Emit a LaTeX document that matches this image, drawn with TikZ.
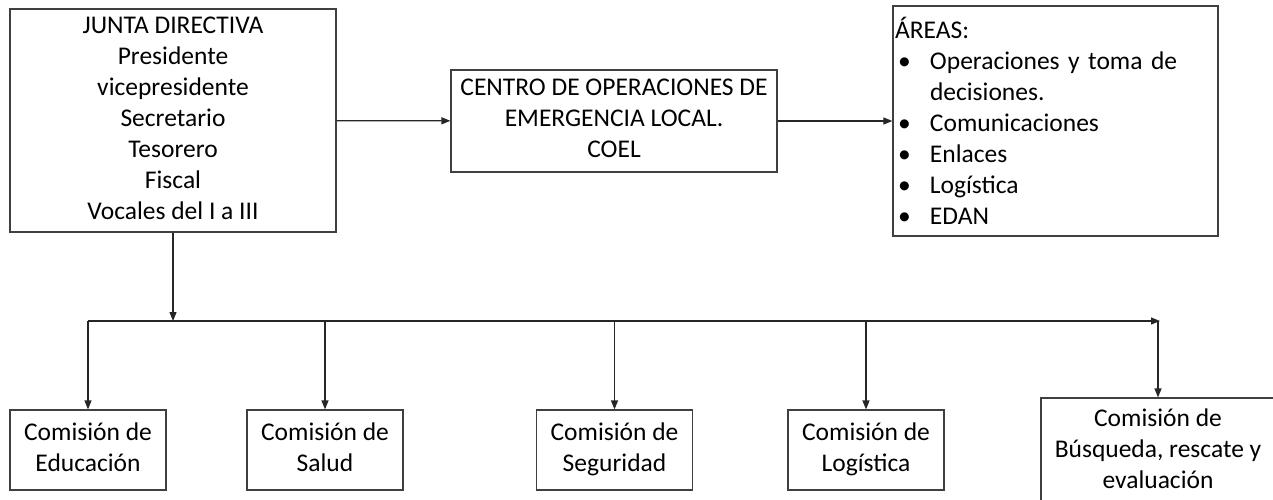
\documentclass[tikz,border=0pt]{standalone}
\usepackage{fontspec}
\setmainfont{Carlito}
\usepackage{tikz}
\usetikzlibrary{positioning, calc, arrows.meta}

\tikzset{
	caja/.style={draw=black!75, line width=1.2pt, align=center, inner sep=0pt,
		font=\fontsize{25.5pt}{31pt}\selectfont,
		execute at begin node={\rule{0pt}{26pt}},
		execute at end node={\rule[-5pt]{0pt}{5pt}}},
	comision/.style={caja, minimum width=156pt, minimum height=80pt},
	linea/.style={draw=black!85, line width=1.2pt}
}

\newcommand{\vinieta}{\makebox[35pt][l]{\hspace{3pt}\textbullet}}

\begin{document}
\begin{tikzpicture}[x=1pt, y=-1pt]
		\useasboundingbox (0,0) rectangle (1273,499);

		\node[caja, minimum width=326pt, minimum height=223pt] (junta) at (173,120.5)
			{JUNTA DIRECTIVA\\Presidente\\vicepresidente\\Secretario\\Tesorero\\Fiscal\\Vocales del I a III};
		\node[caja, minimum width=326pt, minimum height=102pt] (coel) at (614,121)
			{CENTRO DE OPERACIONES DE\\EMERGENCIA LOCAL.\\COEL};
		\node[caja, align=left, text width=321pt, minimum height=230pt, inner xsep=2pt] (areas) at (1055.5,121)
			{ÁREAS:\\\vinieta Operaciones y toma de\\\hspace{35pt}decisiones.\\\vinieta Comunicaciones\\\vinieta Enlaces\\\vinieta Logística\\\vinieta EDAN};

		\node[comision] (educacion) at (88,450) {Comisión de\\Educación};
		\node[comision] (salud) at (325,450) {Comisión de\\Salud};
		\node[comision] (seguridad) at (614.5,450) {Comisión de\\Seguridad};
		\node[comision] (logistica) at (866,450) {Comisión de\\Logística};
		\node[comision, minimum width=234pt, minimum height=106pt] (busqueda) at (1158,451)
			{Comisión de\\Búsqueda, rescate y\\evaluación};

		\coordinate (busL) at (88,321);
		\coordinate (busR) at (1160,321);
		\coordinate (tramo) at (243,321);

		\begin{scope}[>={Triangle[length=9pt, width=7pt]}]

			\path [linea, ->] (junta) -- (coel);
			\path [linea, ->] (coel) -- (areas);
			\path [linea, ->] (junta.south) -- (junta.south |- busL);
			\path [linea, ->] (busL) -- (busR);
			\path [linea, line width=2pt] (tramo) -- (salud.north |- busL);
			\path [linea, ->] (busL) -- (educacion.north);
			\path [linea, ->] (salud.north |- busL) -- (salud.north);
			\path [linea, ->] (seguridad.north |- busL) -- (seguridad.north);
			\path [linea, ->] (logistica.north |- busL) -- (logistica.north);
			\path [linea, ->] (busqueda.north |- busL) -- (busqueda.north);

		\end{scope}

	\end{tikzpicture}
\end{document}
